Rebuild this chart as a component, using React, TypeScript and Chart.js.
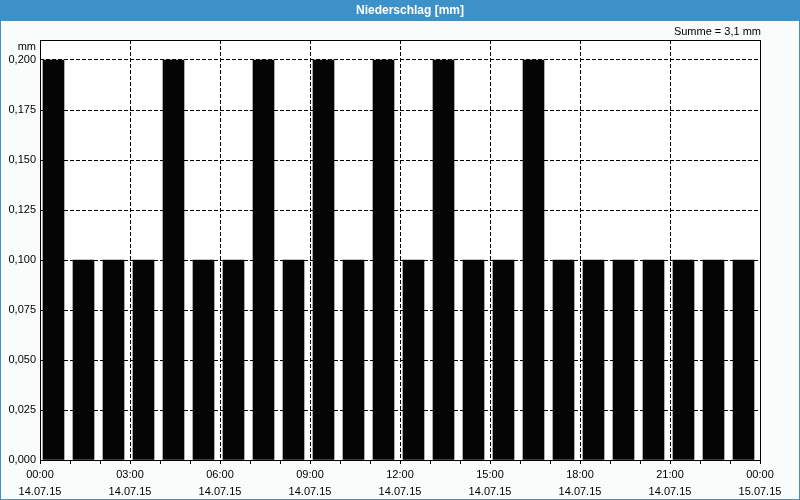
import React, { useEffect, useRef } from "react";
import { Chart, registerables } from "chart.js";

Chart.register(...registerables);

// Hourly precipitation (mm), 14.07.15 00:00 .. 15.07.15 00:00
const hourStarts = [0, 1, 2, 3, 4, 5, 6, 7, 8, 9, 10, 11, 12, 13, 14, 15, 16, 17, 18, 19, 20, 21, 22, 23];
const precipitation = [0.2, 0.1, 0.1, 0.1, 0.2, 0.1, 0.1, 0.2, 0.1, 0.2, 0.1, 0.2, 0.1, 0.2, 0.1, 0.1, 0.2, 0.1, 0.1, 0.1, 0.1, 0.1, 0.1, 0.1];
const xTickHours = [0, 3, 6, 9, 12, 15, 18, 21, 24];
const xTickTimes = ["00:00", "03:00", "06:00", "09:00", "12:00", "15:00", "18:00", "21:00", "00:00"];
const xTickDates = ["14.07.15", "14.07.15", "14.07.15", "14.07.15", "14.07.15", "14.07.15", "14.07.15", "14.07.15", "15.07.15"];
const yTickValues = [0, 0.025, 0.05, 0.075, 0.1, 0.125, 0.15, 0.175, 0.2];
const titleText = "Niederschlag [mm]";
const sumText = "Summe = 3,1 mm";
const unitText = "mm";

const FONT = "'Liberation Sans', Arial, sans-serif";
const BLUE = "#3c91c8";

const framePlugin = {
  id: "frame",
  beforeDraw(chart: any) {
    const { ctx, chartArea: a } = chart;
    ctx.save();
    ctx.fillStyle = "#fafcfc";
    ctx.fillRect(0, 0, 800, 500);
    ctx.fillStyle = "#ffffff";
    ctx.fillRect(a.left, a.top, a.right - a.left, a.bottom - a.top);
    ctx.fillStyle = BLUE;
    ctx.fillRect(0, 0, 800, 21);
    ctx.fillRect(0, 0, 1, 500);
    ctx.fillRect(799, 0, 1, 500);
    ctx.fillRect(0, 499, 800, 1);
    ctx.restore();
  },
  afterDraw(chart: any) {
    const { ctx, chartArea: a } = chart;
    ctx.save();
    ctx.strokeStyle = "#000";
    ctx.lineWidth = 1;
    ctx.setLineDash([]);
    ctx.strokeRect(a.left + 0.5, a.top + 0.5, a.right - a.left, a.bottom - a.top);
    ctx.fillStyle = "#ffffff";
    ctx.font = "bold 12px " + FONT;
    ctx.textAlign = "center";
    ctx.textBaseline = "middle";
    ctx.fillText(titleText, 410, 11);
    ctx.fillStyle = "#000";
    ctx.font = "11px " + FONT;
    ctx.textAlign = "right";
    ctx.fillText(sumText, 761, 32);
    ctx.fillText(unitText, 36, 47);
    ctx.restore();
  },
};

export default function App() {
  const ref = useRef<HTMLCanvasElement>(null);
  useEffect(() => {
    const canvas = ref.current!;
    const chart = new Chart(canvas, {
      type: "bar",
      data: {
        datasets: [
          {
            data: hourStarts.map((h, i) => ({ x: h + 0.45, y: precipitation[i] })),
            backgroundColor: "#050505",
            borderWidth: 0,
            barThickness: 21,
          },
        ],
      },
      options: {
        animation: false,
        responsive: false,
        devicePixelRatio: 1,
        layout: { padding: { top: 40, right: 40, left: 0, bottom: 0 } },
        plugins: { legend: { display: false }, title: { display: false }, tooltip: { enabled: false } },
        scales: {
          x: {
            type: "linear",
            min: 0,
            max: 24,
            offset: false,
            afterFit: (s: any) => { s.height = 40; },
            grid: {
              offset: false,
              color: (c: any) => {
                const v = c.tick ? c.tick.value : -1;
                return xTickHours.includes(v) && v > 0 && v < 24 ? "#000" : "rgba(0,0,0,0)";
              },
              tickColor: "#000",
              tickLength: 4,
              tickBorderDash: [],
            },
            border: { display: false, dash: [4, 2] },
            ticks: {
              stepSize: 1,
              autoSkip: false,
              maxRotation: 0,
              minRotation: 0,
              padding: 2,
              color: "#000",
              font: { family: FONT, size: 11, lineHeight: "17px" },
              callback: (v: any) => {
                const k = xTickHours.indexOf(Number(v));
                return k >= 0 ? [xTickTimes[k], xTickDates[k]] : "";
              },
            },
          },
          y: {
            min: 0,
            max: 0.21,
            afterFit: (s: any) => { s.width = 40; },
            afterBuildTicks: (s: any) => {
              s.ticks = yTickValues.map((v) => ({ value: v }));
            },
            grid: {
              color: (c: any) => {
                const v = c.tick ? c.tick.value : 0;
                return v > 0 ? "#000" : "rgba(0,0,0,0)";
              },
              drawTicks: false,
            },
            border: { display: false, dash: [4, 2] },
            ticks: {
              padding: 4,
              color: "#000",
              font: { family: FONT, size: 11 },
              callback: (v: any) => Number(v).toFixed(3).replace(".", ","),
            },
          },
        },
      },
      plugins: [framePlugin],
    } as any);
    return () => chart.destroy();
  }, []);
  return (
    <div style={{ position: "fixed", left: 0, top: 0, width: 800, height: 500 }}>
      <canvas ref={ref} width={800} height={500} style={{ display: "block" }} />
    </div>
  );
}
